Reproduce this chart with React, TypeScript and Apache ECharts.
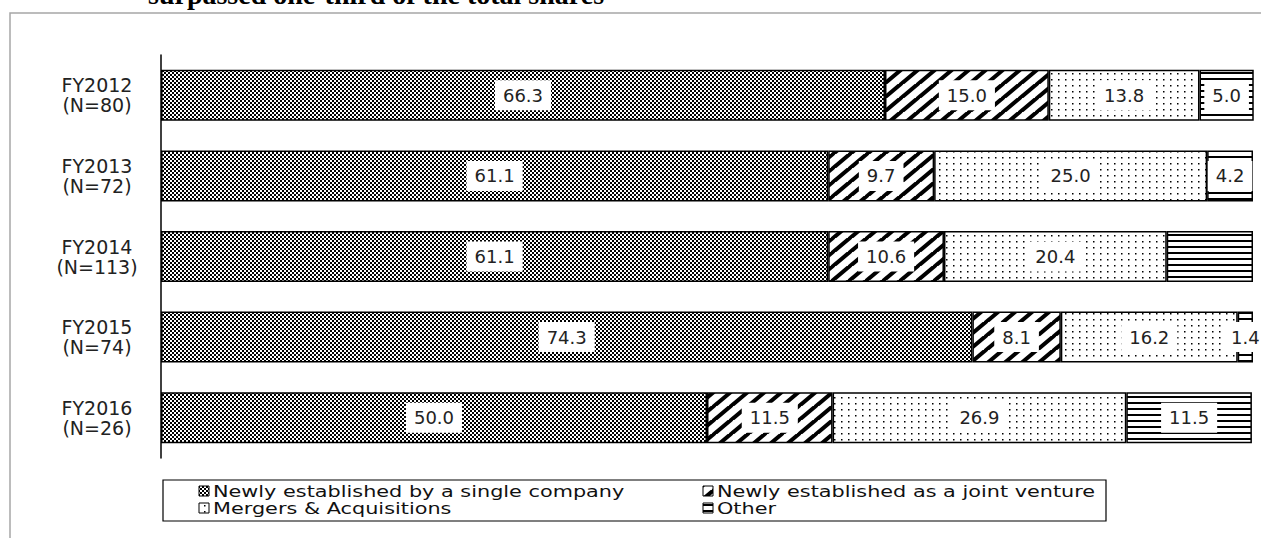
import React, { useEffect, useRef } from "react";
import * as echarts from "echarts";

// Fiscal years (top to bottom) with sample sizes
const categories = [
  "FY2012\n(N=80)",
  "FY2013\n(N=72)",
  "FY2014\n(N=113)",
  "FY2015\n(N=74)",
  "FY2016\n(N=26)",
];

const seriesNames = [
  "Newly established by a single company",
  "Newly established as a joint venture",
  "Mergers & Acquisitions",
  "Other",
];

// Shares in percent
const singleCompany = [66.3, 61.1, 61.1, 74.3, 50.0];
const jointVenture = [15.0, 9.7, 10.6, 8.1, 11.5];
const mergersAcquisitions = [13.8, 25.0, 20.4, 16.2, 26.9];
const other = [5.0, 4.2, 7.9, 1.4, 11.5];
const otherLabelVisible = [true, true, false, true, true];

const titleText = "surpassed one-third of the total shares";

const FONT = "'DejaVu Sans', Verdana, sans-serif";

type Draw = (ctx: CanvasRenderingContext2D, w: number, h: number) => void;

function makePattern(w: number, h: number, draw: Draw) {
  const c = document.createElement("canvas");
  c.width = w;
  c.height = h;
  const ctx = c.getContext("2d") as CanvasRenderingContext2D;
  ctx.fillStyle = "#fff";
  ctx.fillRect(0, 0, w, h);
  ctx.fillStyle = "#000";
  ctx.strokeStyle = "#000";
  draw(ctx, w, h);
  return {
    image: c.toDataURL(),
    repeat: "repeat",
    imageWidth: w,
    imageHeight: h,
  } as any;
}

function buildPatterns() {
  // fine checkerboard
  const checker = makePattern(4, 4, (ctx) => {
    ctx.fillRect(0, 0, 2, 2);
    ctx.fillRect(2, 2, 2, 2);
  });
  // bold forward-slash stripes
  const stripes = makePattern(17, 14, (ctx, w, h) => {
    ctx.lineWidth = 4;
    for (let k = -1; k <= 1; k++) {
      ctx.beginPath();
      ctx.moveTo(k * w - 1, h + 1);
      ctx.lineTo(k * w + w + 1, -1);
      ctx.stroke();
    }
  });
  // sparse dots
  const dots = makePattern(7, 6, (ctx) => {
    ctx.fillRect(1, 1, 1.5, 1.5);
  });
  // horizontal lines
  const hlines = makePattern(4, 6, (ctx) => {
    ctx.fillRect(0, 0, 4, 2);
  });
  return [checker, stripes, dots, hlines];
}

// Legend layout: two columns, two rows (series index order)
const legendSlots = [
  { x: 199, y: 491 },
  { x: 703, y: 491 },
  { x: 199, y: 508 },
  { x: 703, y: 508 },
];

export default function App() {
  const ref = useRef<HTMLDivElement>(null);

  useEffect(() => {
    if (!ref.current) return;
    const chart = echarts.init(ref.current, undefined, { renderer: "svg" });
    const patterns = buildPatterns();

    const labelStyle = {
      show: true,
      position: "inside",
      formatter: (p: any) => Number(p.value).toFixed(1),
      backgroundColor: "#fff",
      padding: [6, 8],
      color: "#222",
      fontSize: 18,
      fontFamily: FONT,
    };

    const valueSets = [singleCompany, jointVenture, mergersAcquisitions, other];

    const series = valueSets.map((vals, i) => ({
      name: seriesNames[i],
      type: "bar",
      stack: "total",
      barWidth: 51,
      data:
        i === 3
          ? vals.map((v, j) =>
              otherLabelVisible[j] ? v : { value: v, label: { show: false } }
            )
          : vals,
      itemStyle: {
        color: patterns[i],
        borderColor: "#000",
        borderWidth: 1.5,
      },
      label: labelStyle,
      emphasis: { disabled: true },
    }));

    // Boxed legend with patterned swatches
    const legendItems: any[] = [];
    seriesNames.forEach((name, i) => {
      const slot = legendSlots[i];
      legendItems.push({
        type: "rect",
        silent: true,
        shape: { x: slot.x, y: slot.y - 5, width: 10, height: 10 },
        style: { fill: patterns[i], stroke: "#000", lineWidth: 1 },
      });
      legendItems.push({
        type: "text",
        silent: true,
        x: slot.x + 14,
        y: slot.y,
        scaleX: 1.3,
        style: {
          text: name,
          font: `16px ${FONT}`,
          fill: "#111",
          align: "left",
          verticalAlign: "middle",
        },
      });
    });

    chart.setOption({
      animation: false,
      backgroundColor: "#fff",
      grid: { left: 161, right: 8, top: 55, bottom: 80, containLabel: false },
      xAxis: {
        type: "value",
        min: 0,
        max: 100,
        show: false,
      },
      yAxis: {
        type: "category",
        data: categories,
        inverse: true,
        axisLine: { show: true, lineStyle: { color: "#000", width: 1.5 } },
        axisTick: { show: false },
        axisLabel: {
          align: "center",
          margin: 64,
          fontSize: 19,
          lineHeight: 20,
          color: "#222",
          fontFamily: FONT,
        },
      },
      graphic: [
        {
          type: "rect",
          silent: true,
          shape: { x: 10, y: 13, width: 1400, height: 700 },
          style: { fill: "none", stroke: "#a6a6a6", lineWidth: 1.5 },
        },
        {
          type: "rect",
          silent: true,
          shape: { x: 163, y: 480, width: 943, height: 41 },
          style: { fill: "none", stroke: "#000", lineWidth: 1.2 },
        },
        {
          type: "text",
          silent: true,
          x: 148,
          y: -6,
          style: {
            text: titleText,
            font: "bold 28px 'Liberation Serif', 'Times New Roman', serif",
            fill: "#000",
            verticalAlign: "middle",
            align: "left",
          },
        },
        ...legendItems,
      ],
      series,
    });

    return () => chart.dispose();
  }, []);

  return (
    <div
      ref={ref}
      style={{ position: "fixed", left: 0, top: 0, width: 1261, height: 538 }}
    />
  );
}
